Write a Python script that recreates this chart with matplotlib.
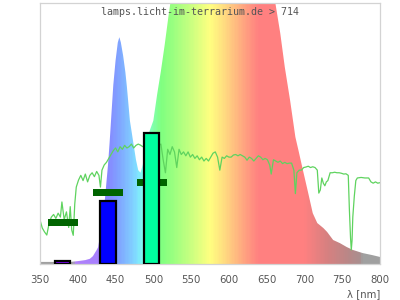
import numpy as np
import matplotlib
matplotlib.use('Agg')
import matplotlib.pyplot as plt
from matplotlib.colors import LinearSegmentedColormap, Normalize

# Lamp emission spectrum envelope (relative units, axis top = 100)
spec_nm = [350, 390, 400, 410, 416, 420, 425, 427, 430, 435, 440, 442, 444, 447, 450, 453, 455,
           457, 460, 463, 465, 469, 473, 477, 480, 483, 486, 490, 495, 500, 505, 510, 515, 520,
           525, 530, 550, 580, 600, 630, 650, 661, 668, 674, 681, 688, 692, 698, 705, 711, 717,
           720, 725, 730, 738, 747, 756, 764, 777, 790, 800]
spec_val = [0.8, 0.8, 1.1, 1.5, 2, 3, 5.4, 6.5, 12, 22, 38, 46, 55, 68.6, 78, 85, 87,
            85, 80, 73.6, 68, 55, 47.5, 40, 36, 35, 38, 45.6, 51, 55, 65, 74, 84, 95,
            105, 115, 135, 150, 150, 140, 120, 101, 88.5, 75.5, 62.8, 48.7, 43.7, 36, 27.2, 19.5, 15.7,
            15, 13.8, 12.3, 9.2, 8, 6.5, 5.4, 4.2, 3.4, 2.7]

# Transmission / reference curve
line_nm = [350, 353, 356, 359, 362, 365, 368, 371, 374, 377, 379, 382, 385, 388, 390, 392, 394, 396,
           398, 401, 404, 407, 410, 413, 416, 419, 422, 425, 428, 430, 432, 435, 438, 441, 444, 447,
           450, 453, 456, 459, 462, 465, 468, 471, 474, 477, 480, 483, 486, 489, 492, 495, 498, 501,
           504, 507, 510, 513, 516, 519, 522, 525, 528, 531, 534, 537, 540, 543, 546, 549, 552, 555,
           558, 561, 564, 567, 570, 573, 576, 579, 582, 585, 588, 591, 594, 597, 600, 603, 606, 609,
           612, 615, 618, 621, 624, 627, 630, 633, 636, 639, 642, 645, 648, 651, 654, 656, 659, 662,
           665, 668, 671, 674, 677, 680, 683, 686, 688, 690, 693, 696, 699, 702, 705, 708, 711, 714,
           717, 719, 721, 723, 725, 727, 729, 731, 734, 737, 740, 743, 746, 749, 752, 755, 758, 759.5,
           761, 762, 763, 764, 766, 768, 770, 775, 780, 785, 788, 791, 794, 797, 800]
line_val = [16.9, 13.8, 12.3, 11.1, 15.5, 18, 19, 17.5, 19.5, 18, 23.8, 17, 20, 14, 22, 13, 11, 23,
            29.5, 32.2, 34, 32, 34.5, 31.5, 34, 35, 33.5, 35.5, 34, 29.5, 36, 38, 39, 40.5, 42, 43.5,
            44.5, 43, 45, 44, 45.5, 44.5, 45, 46, 44.5, 45.5, 46, 45.6, 45, 45.5, 46, 45, 44, 45,
            43, 45.5, 46, 40, 35, 44, 42, 45, 43, 37, 44, 42, 43, 41.5, 43, 41, 42, 40.5,
            41.5, 40, 41, 39.5, 40.5, 39.5, 41, 42.5, 43, 41, 36, 41, 40.5, 41.5, 41, 41, 41.8, 42,
            41.5, 42, 41.5, 41, 39.8, 41, 40.5, 39.5, 40.5, 41.5, 41, 40, 40.5, 40, 38, 34.5, 40, 39.5,
            39, 39.5, 38.5, 39, 38.5, 38.7, 38.7, 36, 27, 35, 36, 36, 37, 37.2, 37.5, 37, 37.3, 37,
            36, 27.2, 28.4, 33, 31, 30, 31.5, 32, 35, 35, 35.2, 35, 35, 34.8, 34.5, 34.6, 34, 20.7,
            10, 5.4, 9, 18, 26, 32, 33, 33.2, 33, 33, 31.5, 31, 31.5, 31, 31.2]

# Black-outlined bars
bar_centers = [380, 440, 497.5]
bar_heights = [1.1, 24.3, 50.3]
bar_colors = ['#7f00ff', '#0000ff', '#00ffa0']

# Dark green level markers
mark_centers = [380, 440, 498]
mark_levels = [16.0, 27.5, 31.3]

tick_vals = [350, 400, 450, 500, 550, 600, 650, 700, 750, 800]

fig = plt.figure(figsize=(4, 3), dpi=100)
ax = fig.add_axes([0.1, 0.12, 0.85, 0.869])

stops = [(350, '#a0a0a0'), (393, '#a0a0a0'), (396, '#b080f8'), (425, '#a880ff'), (440, '#8888ff'),
         (452, '#80a0ff'), (466, '#80c0ff'), (478, '#80e0ff'), (486, '#80fff0'), (500, '#80ffa8'),
         (510, '#80ff80'), (525, '#98ff80'), (545, '#c0ff80'), (575, '#ffff80'), (592, '#ffe080'),
         (607, '#ffc080'), (622, '#ffa080'), (640, '#ff8080'), (700, '#ff8080'), (730, '#d88080'),
         (760, '#b88888'), (776, '#a89090'), (777.5, '#a0a0a0'), (800, '#a0a0a0')]
cmap = LinearSegmentedColormap.from_list('spec', [((w - 350) / 450, c) for w, c in stops])

poly = ax.fill_between(spec_nm, 0, spec_val, color='none', lw=0)
grad = np.linspace(350, 800, 1800).reshape(1, -1)
im = ax.imshow(grad, extent=[350, 800, 0, 200], aspect='auto', cmap=cmap,
               norm=Normalize(350, 800), origin='lower', interpolation='nearest', zorder=1)
im.set_clip_path(poly.get_paths()[0], transform=ax.transData)

ax.plot(line_nm, line_val, color='#5fd35f', lw=0.9, zorder=2)

ax.bar(mark_centers, [2.6] * 3, width=40, bottom=[v - 1.3 for v in mark_levels],
       color='#006400', lw=0, zorder=3)

ax.bar(bar_centers, bar_heights, width=20, color=bar_colors, edgecolor='black', lw=1.6, zorder=4)

ax.set_xlim(350, 800)
ax.set_ylim(0, 100)
ax.set_xticks(tick_vals)
ax.set_yticks([])
ax.tick_params(axis='x', length=0, pad=8, labelsize=7.3, labelcolor='#555555')
for s in ax.spines.values():
    s.set_color('#d3d3d3')
    s.set_linewidth(0.9)

fig.text(0.5, 0.96, 'lamps.licht-im-terrarium.de > 714', family='DejaVu Sans Mono',
         fontsize=7.2, color='#555555', ha='center', va='center')
fig.text(0.95, 1 - 294 / 300, 'λ [nm]', fontsize=7.3, color='#555555', ha='right', va='center')

fig.savefig('out.png', dpi=100)
